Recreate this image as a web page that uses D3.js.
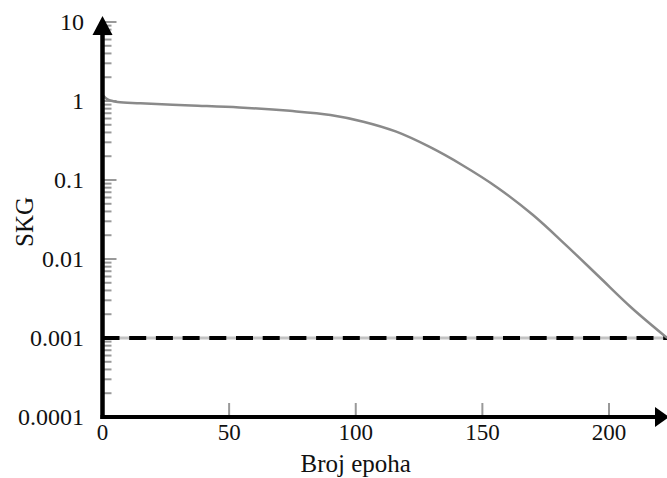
<!DOCTYPE html>
<html>
<head>
<meta charset="utf-8">
<script src="https://cdn.jsdelivr.net/npm/d3@7"></script>
<style>
	body { margin: 0; background: #fff; }
	svg { display: block; }
	text { font-family: "Liberation Serif", "Times New Roman", serif; fill: #111; }
</style>
</head>
<body>
<svg id="chart" width="667" height="478"></svg>
<script>
// epochs and SKG
var epochs = [0, 2, 6, 15, 35, 54, 74, 90, 103, 116, 129, 142, 156, 170, 183, 196, 209, 223];
var skg = [1.2, 1.05, 0.97, 0.935, 0.88, 0.83, 0.75, 0.665, 0.547, 0.409, 0.264, 0.155, 0.08, 0.036, 0.015, 0.006, 0.0024, 0.001];
var xTicks = [0, 50, 100, 150, 200];
var yTicks = [0.0001, 0.001, 0.01, 0.1, 1, 10];
var yTickLabels = ["0.0001", "0.001", "0.01", "0.1", "1", "10"];
var goal = 0.001;

var svg = d3.select("#chart");

var xScale = d3.scaleLinear().domain([0, 200]).range([102.5, 609]);
var yScale = d3.scaleLog().domain([0.0001, 10]).range([417, 22]);

var x0 = xScale(0), y0 = yScale(0.0001);

// minor ticks on y axis (2..9 in each decade)
var minor = [];
yTicks.slice(0, -1).forEach(function (d) {
	for (var k = 2; k < 10; k++) minor.push(d * k);
});

svg.append("g")
	.selectAll("line")
	.data(minor)
	.enter()
  .append("line")
	.attr("x1", x0)
	.attr("x2", x0 + 9)
	.attr("y1", function (d) { return yScale(d); })
	.attr("y2", function (d) { return yScale(d); })
	.attr("stroke", "#999")
	.attr("stroke-width", 2);

svg.append("g")
	.selectAll("line")
	.data(yTicks)
	.enter()
  .append("line")
	.attr("x1", x0)
	.attr("x2", x0 + 14)
	.attr("y1", function (d) { return yScale(d); })
	.attr("y2", function (d) { return yScale(d); })
	.attr("stroke", "#999")
	.attr("stroke-width", 2);

// x ticks pointing up
svg.append("g")
	.selectAll("line")
	.data(xTicks.slice(1))
	.enter()
  .append("line")
	.attr("x1", function (d) { return xScale(d); })
	.attr("x2", function (d) { return xScale(d); })
	.attr("y1", y0)
	.attr("y2", y0 - 14)
	.attr("stroke", "#999")
	.attr("stroke-width", 2);

// threshold line
svg.append("line")
	.attr("x1", x0).attr("x2", xScale(223))
	.attr("y1", yScale(goal)).attr("y2", yScale(goal))
	.attr("stroke", "#c4c4c4")
	.attr("stroke-width", 3);
svg.append("line")
	.attr("x1", x0).attr("x2", xScale(223))
	.attr("y1", yScale(goal)).attr("y2", yScale(goal))
	.attr("stroke", "#000")
	.attr("stroke-width", 4)
	.attr("stroke-dasharray", "17,9.7");

// SKG curve
var line = d3.line()
	.x(function (d, i) { return xScale(epochs[i]); })
	.y(function (d) { return yScale(d); })
	.curve(d3.curveCatmullRom.alpha(0.5));

svg.append("path")
	.datum(skg)
	.attr("d", line)
	.attr("fill", "none")
	.attr("stroke", "#8a8a8a")
	.attr("stroke-width", 2.5);

// axes with arrows
svg.append("line")
	.attr("x1", x0).attr("x2", x0)
	.attr("y1", y0 + 2).attr("y2", 34)
	.attr("stroke", "#000").attr("stroke-width", 4.5);
svg.append("path")
	.attr("d", "M" + (x0 - 10) + ",35L" + x0 + ",16L" + (x0 + 10) + ",35Z")
	.attr("fill", "#000");

svg.append("line")
	.attr("x1", x0 - 2).attr("x2", 656)
	.attr("y1", y0).attr("y2", y0)
	.attr("stroke", "#000").attr("stroke-width", 4);
svg.append("path")
	.attr("d", "M655," + (y0 - 10) + "L669," + y0 + "L655," + (y0 + 10) + "Z")
	.attr("fill", "#000");

// tick labels
svg.append("g")
	.selectAll("text")
	.data(xTicks)
	.enter()
  .append("text")
	.attr("x", function (d) { return xScale(d); })
	.attr("y", 440)
	.attr("text-anchor", "middle")
	.style("font-size", "23px")
	.text(function (d) { return d; });

svg.append("g")
	.selectAll("text")
	.data(yTicks)
	.enter()
  .append("text")
	.attr("x", 84)
	.attr("y", function (d) { return yScale(d); })
	.attr("dy", "0.33em")
	.attr("text-anchor", "end")
	.style("font-size", "24px")
	.text(function (d, i) { return yTickLabels[i]; });

svg.append("text")
	.attr("x", xScale(100) + 0)
	.attr("y", 472)
	.attr("text-anchor", "middle")
	.style("font-size", "25px")
	.text("Broj epoha");

svg.append("text")
	.attr("transform", "translate(33,222) rotate(-90)")
	.attr("text-anchor", "middle")
	.style("font-size", "25px")
	.text("SKG");
</script>
</body>
</html>
